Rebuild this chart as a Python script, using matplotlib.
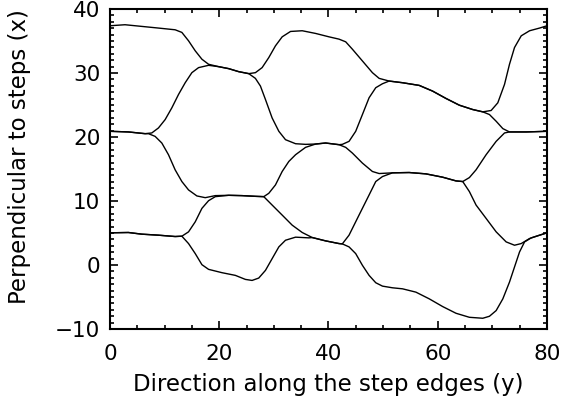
import matplotlib
matplotlib.use("Agg")
import matplotlib.pyplot as plt
from matplotlib.ticker import MultipleLocator

# step edge positions, 5 edges from top to bottom
x1 = [0, 2.75, 5.81, 8.87, 11.93, 13.16, 14.38, 15.61, 16.83, 18.05, 19.89, 21.73, 23.56,
      25.40, 26.62, 27.85, 29.07, 30.29, 31.52, 33.05, 35.19, 37.64, 40.09, 41.92, 43.15,
      44.37, 46.21, 48.04, 49.27, 51.10, 53.55, 56.61, 59.06, 61.51, 63.95, 66.40, 68.24,
      69.77, 70.99, 72.22, 73.13, 74.05, 75.28, 76.81, 78.64, 80]
y1 = [37.38, 37.54, 37.28, 37.02, 36.75, 36.34, 35.03, 33.46, 32.15, 31.36, 30.99, 30.68, 30.21,
      29.90, 30.05, 30.84, 32.41, 34.24, 35.65, 36.49, 36.60, 36.18, 35.65, 35.29, 34.87,
      33.72, 31.88, 30.05, 29.16, 28.74, 28.48, 28.06, 27.17, 26.02, 24.97, 24.29, 23.93,
      24.14, 25.34, 28.22, 31.36, 33.98, 35.81, 36.60, 37.02, 37.38]

x2 = [0, 3.37, 6.43, 7.65, 8.87, 10.10, 11.32, 12.55, 13.77, 14.99, 16.22, 18.05, 19.89,
      21.73, 23.56, 25.40, 26.62, 27.54, 28.46, 29.68, 30.91, 32.13, 33.97, 35.80, 37.64,
      39.47, 41.92, 42.53, 43.76, 44.98, 46.21, 47.43, 48.65, 49.88, 51.10, 53.55, 56.61,
      59.06, 61.51, 63.95, 66.40, 68.24, 69.46, 70.69, 71.91, 73.13, 76.19, 80]
y2 = [20.89, 20.79, 20.52, 20.63, 21.41, 22.72, 24.55, 26.65, 28.48, 30.05, 30.84, 31.20, 30.99,
      30.68, 30.21, 29.90, 29.16, 27.96, 25.86, 22.98, 20.89, 19.58, 18.95, 18.85, 18.90,
      19.06, 18.80, 18.85, 19.32, 20.89, 23.51, 26.13, 27.70, 28.32, 28.74, 28.48, 28.06,
      27.17, 26.02, 24.97, 24.29, 23.93, 23.51, 22.46, 21.31, 20.79, 20.79, 20.89]

x3 = [0, 3.37, 6.43, 7.04, 8.26, 9.49, 10.71, 11.93, 13.16, 14.38, 15.91, 17.44, 19.28,
      21.73, 24.17, 26.62, 28.15, 29.07, 30.29, 31.52, 32.74, 33.97, 35.80, 37.64, 39.47,
      41.92, 43.15, 44.37, 46.21, 48.04, 49.27, 51.71, 54.77, 57.83, 60.89, 63.34, 64.57,
      65.79, 67.01, 68.85, 70.69, 72.22, 73.13, 76.19, 80]
y3 = [20.89, 20.79, 20.52, 20.52, 20.10, 19.06, 17.23, 14.87, 13.04, 11.73, 10.79, 10.52, 10.84,
      10.89, 10.84, 10.73, 10.68, 11.20, 12.51, 14.61, 16.18, 17.23, 18.38, 18.90, 19.06,
      18.80, 18.38, 17.49, 15.92, 14.61, 14.29, 14.40, 14.45, 14.24, 13.72, 13.14, 13.04,
      13.66, 14.87, 17.23, 19.32, 20.63, 20.79, 20.79, 20.89]

x4 = [0, 3.37, 5.81, 8.87, 11.93, 13.16, 14.38, 15.61, 16.83, 18.05, 19.28, 21.73, 24.17,
      26.62, 28.15, 29.68, 31.52, 33.35, 35.19, 37.03, 39.47, 41.92, 42.53, 43.76, 45.59,
      47.43, 48.65, 49.88, 51.71, 54.77, 57.83, 60.89, 63.34, 64.57, 65.79, 67.01, 68.85,
      70.69, 72.52, 74.05, 75.28, 76.81, 78.64, 80]
y4 = [5.03, 5.08, 4.82, 4.66, 4.45, 4.50, 5.18, 6.75, 8.85, 10.05, 10.68, 10.89, 10.84,
      10.73, 10.68, 9.37, 7.80, 6.23, 5.08, 4.29, 3.77, 3.35, 3.30, 4.66, 7.80,
      10.94, 13.04, 13.82, 14.40, 14.45, 14.24, 13.72, 13.14, 13.04, 11.47, 9.37, 7.28,
      5.18, 3.61, 3.09, 3.35, 4.14, 4.66, 5.03]

x5 = [0, 3.37, 5.81, 8.87, 11.93, 13.16, 14.38, 15.61, 16.83, 18.05, 20.50, 22.95, 24.79,
      26.01, 27.23, 28.46, 29.68, 30.91, 32.13, 33.97, 36.41, 37.03, 39.47, 41.92, 42.53,
      43.76, 44.98, 46.21, 47.43, 48.65, 49.88, 51.71, 53.55, 56.00, 58.45, 60.89, 63.34,
      65.79, 68.24, 69.46, 70.69, 71.91, 73.13, 74.05, 74.97, 75.89, 77.11, 78.64, 80]
y5 = [5.03, 5.08, 4.82, 4.66, 4.45, 4.50, 3.35, 1.78, 0.05, -0.68, -1.20, -1.62, -2.25,
      -2.41, -2.04, -0.84, 0.99, 2.83, 3.87, 4.35, 4.24, 4.29, 3.77, 3.35, 3.30,
      2.83, 1.78, -0.05, -1.62, -2.77, -3.30, -3.56, -3.72, -4.24, -5.29, -6.49, -7.54,
      -8.17, -8.32, -8.01, -7.12, -5.29, -2.67, -0.31, 2.04, 3.61, 4.24, 4.66, 5.03]

edges = [(x1, y1), (x2, y2), (x3, y3), (x4, y4), (x5, y5)]

fig = plt.figure(figsize=(5.71, 4.03), dpi=100)
ax = fig.add_axes([0.1926, 0.1836, 0.7654, 0.7941])

for xs, ys in edges:
    ax.plot(xs, ys, color="black", lw=1.0, solid_joinstyle="round")

ax.set_xlim(0, 80)
ax.set_ylim(-10, 40)
ax.xaxis.set_major_locator(MultipleLocator(20))
ax.xaxis.set_minor_locator(MultipleLocator(5))
ax.yaxis.set_major_locator(MultipleLocator(10))
ax.yaxis.set_minor_locator(MultipleLocator(1))
ax.tick_params(which="both", direction="in", top=True, right=True,
               labelsize=15.5, width=1.2)
ax.tick_params(axis="x", pad=11)
ax.tick_params(axis="y", pad=7)
ax.tick_params(which="major", length=5.5)
ax.tick_params(which="minor", length=3)
for s in ax.spines.values():
    s.set_linewidth(1.5)

ax.set_xlabel("Direction along the step edges (y)", fontsize=16.5, labelpad=6)
ax.set_ylabel("Perpendicular to steps (x)", fontsize=16.5)
ax.yaxis.set_label_coords(-0.18, 0.54)

fig.savefig("out.png", dpi=100)
